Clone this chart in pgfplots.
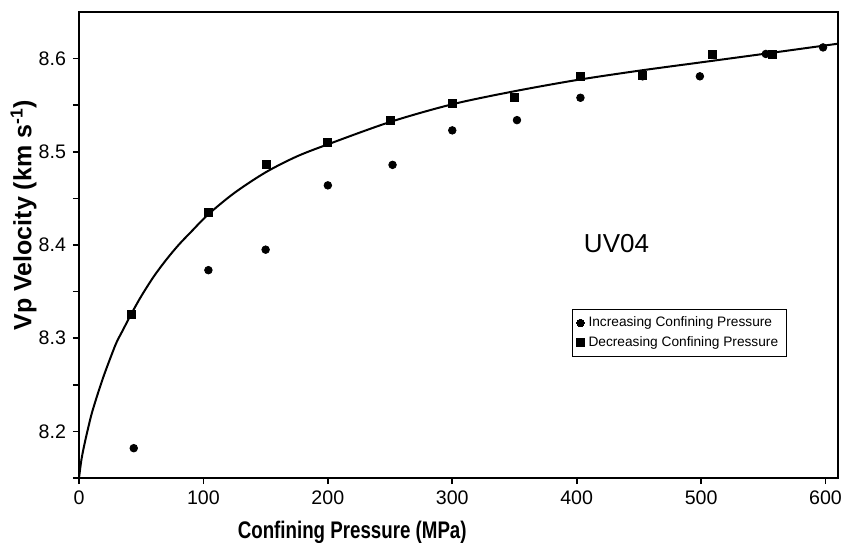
\documentclass[border=0pt]{standalone}
\usepackage{fontspec}
\setmainfont{Liberation Sans}
\usepackage{graphicx}
\usepackage{pgfplots}
\pgfplotsset{compat=1.18}

\begin{document}
\begin{tikzpicture}
\path[use as bounding box] (-39.5pt,-32pt) rectangle (383pt,239pt);
\begin{axis}[
  at={(0,0)}, anchor=south west,
  width=379.5pt, height=233pt, scale only axis,
  xmin=0, xmax=610, ymin=8.15, ymax=8.65,
  xtick={0,100,200,300,400,500,600},
  ytick={8.2,8.3,8.4,8.5,8.6},
  minor ytick={8.15,8.25,8.35,8.45,8.55},
  yticklabels={8.2,8.3,8.4,8.5,8.6},
  xtick pos=bottom, ytick pos=left, tick align=outside,
  major tick length=3pt, minor tick length=3pt,
  every tick/.style={black, line width=0.8pt},
  axis line style={line width=0.9pt},
  ticklabel style={font=\fontsize{9.8}{11}\selectfont},
  /pgf/number format/assume math mode=true,
  xlabel={\scalebox{0.78}[1]{\fontsize{12}{13}\selectfont\bfseries Confining Pressure (MPa)}},
  xlabel style={at={(axis description cs:0.36,0)}, anchor=base, yshift=-30pt, inner sep=0pt},
  ylabel={\fontsize{12.5}{14}\selectfont\bfseries Vp Velocity (km s\textsuperscript{-1})},
  ylabel style={at={(axis description cs:-0.0731,0.564)}, anchor=center, inner sep=0pt},
  legend style={at={(axis description cs:0.6495,0.363)}, anchor=north west,
    draw=black, line width=0.6pt, font=\fontsize{6.85}{8}\selectfont,
    inner xsep=2pt, inner ysep=1.5pt, row sep=-0.5pt, cells={anchor=west}},
  legend image code/.code={\draw[#1, line width=0pt] plot coordinates {(0.06cm,0cm)};},
  legend cell align=left,
]
% fitted curve
\addplot[black, line width=1pt, smooth, forget plot] coordinates {
(0,8.150) (2,8.170) (5,8.190) (10,8.218) (15,8.240) (20,8.260) (25,8.278)
(30,8.295) (35,8.308) (42,8.326) (50,8.345) (60,8.366) (70,8.384) (80,8.400)
(90,8.414) (104,8.433) (125,8.456) (150,8.478) (175,8.495) (200,8.508)
(250,8.532) (300,8.551) (350,8.565) (400,8.577) (450,8.587) (500,8.596)
(550,8.605) (610,8.616)};
\addplot[only marks, mark=*, mark size=1.9pt, black] coordinates {
(44,8.182) (104,8.373) (150,8.395) (200,8.464) (252,8.486) (300,8.523)
(352,8.534) (403,8.558) (453,8.581) (499,8.581) (552,8.605) (598,8.612)};
\addlegendentry{Increasing Confining Pressure}
\addplot[only marks, mark=square*, mark size=2pt, black] coordinates {
(42,8.326) (104,8.435) (151,8.486) (200,8.510) (250,8.534) (300,8.552)
(350,8.558) (403,8.581) (453,8.582) (509,8.605) (557,8.605)};
\addlegendentry{Decreasing Confining Pressure}
\node[font=\fontsize{13}{15}\selectfont, inner sep=0pt] at (axis cs:432,8.402) {UV04};
\end{axis}
\end{tikzpicture}
\end{document}
